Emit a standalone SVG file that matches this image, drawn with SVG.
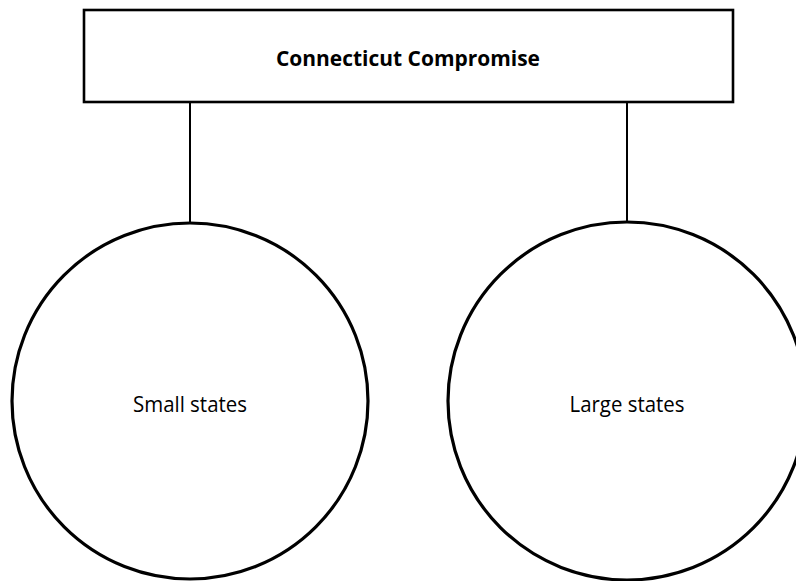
<svg xmlns="http://www.w3.org/2000/svg" width="796" height="581" viewBox="0 0 796 581">
  <style>
    .box { fill: #ffffff; stroke: #000000; stroke-width: 2.6; }
    .circ { fill: #ffffff; stroke: #000000; stroke-width: 3.2; }
    .link { stroke: #000000; stroke-width: 2; fill: none; }
    .title { font-family: "Open Sans", "DejaVu Sans", sans-serif; font-weight: bold; font-size: 22px; fill: #000000; }
    .label { font-family: "Open Sans", "DejaVu Sans", sans-serif; font-size: 21px; fill: #000000; }
  </style>
  <rect width="796" height="581" fill="#ffffff"/>
  <g id="connectors">
    <line class="link" x1="190" y1="102" x2="190" y2="223"/>
    <line class="link" x1="627" y1="102" x2="627" y2="223"/>
  </g>
  <g id="compromise">
    <rect class="box" x="84" y="10" width="649" height="92"/>
    <text class="title" x="408" y="66" text-anchor="middle" textLength="264" lengthAdjust="spacingAndGlyphs">Connecticut Compromise</text>
  </g>
  <g id="small-states">
    <circle class="circ" cx="190" cy="401" r="178"/>
    <text class="label" x="190" y="412" text-anchor="middle" textLength="114" lengthAdjust="spacingAndGlyphs">Small states</text>
  </g>
  <g id="large-states">
    <circle class="circ" cx="627" cy="401" r="179"/>
    <text class="label" x="627" y="412" text-anchor="middle" textLength="115" lengthAdjust="spacingAndGlyphs">Large states</text>
  </g>
</svg>
